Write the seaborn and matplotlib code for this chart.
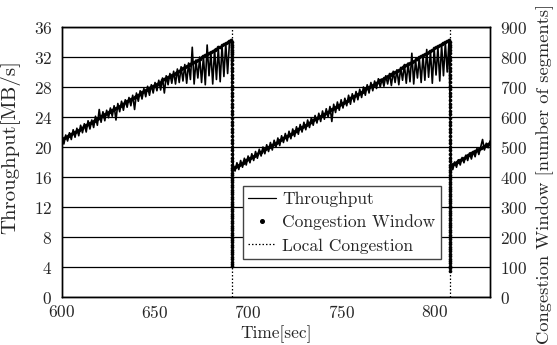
import numpy as np
import pandas as pd
import matplotlib
matplotlib.use("Agg")
import matplotlib.pyplot as plt
from matplotlib.lines import Line2D
import seaborn as sns

# ---------------- data ----------------
# throughput [MB/s], sampled once per second
thr_start_1, thr_1 = 600, [
    21.2, 20.4, 21.6, 20.8, 21.9, 21.0, 22.3, 21.3, 22.5, 21.5,
    22.9, 21.9, 23.1, 22.0, 23.5, 22.4, 23.6, 22.6, 24.1, 22.9,
    25.0, 23.3, 24.7, 23.5, 24.9, 23.9, 25.2, 24.1, 25.5, 23.6,
    25.8, 24.7, 26.1, 24.9, 26.3, 25.3, 26.6, 25.5, 26.9, 25.0,
    27.2, 26.1, 27.5, 26.4, 27.8, 26.7, 28.1, 26.9, 28.3, 27.2,
    28.6, 27.5, 28.9, 27.6, 29.2, 27.2, 29.5, 28.3, 29.8, 28.5,
    30.1, 28.4, 30.4, 28.6, 30.7, 28.8, 31.0, 28.5, 31.2, 29.0,
    33.3, 28.4, 31.6, 29.2, 32.0, 28.6, 32.1, 28.3, 33.6, 29.5,
    32.6, 28.4, 33.0, 29.0, 33.2, 28.7, 33.5, 29.4, 33.8, 29.8,
    34.0, 34.2]
thr_start_2, thr_2 = 692, [
    17.2, 16.8, 17.9, 17.0, 18.2, 17.3, 18.5, 17.6, 18.8, 17.9,
    19.1, 18.2, 19.4, 18.5, 19.7, 18.8, 20.0, 19.1, 20.3, 19.4,
    20.6, 19.6, 20.9, 20.0, 21.2, 20.2, 21.5, 20.6, 21.8, 20.8,
    22.1, 21.1, 22.4, 21.4, 22.7, 21.7, 23.0, 22.0, 23.3, 22.3,
    23.6, 22.6, 23.9, 22.9, 24.2, 23.2, 24.5, 23.4, 24.8, 23.7,
    25.1, 24.0, 25.4, 23.4, 25.7, 24.6, 26.0, 24.9, 26.3, 25.2,
    26.5, 25.5, 26.9, 25.7, 27.1, 26.0, 27.4, 26.3, 27.7, 26.6,
    28.0, 26.9, 28.3, 27.2, 28.6, 27.5, 28.8, 27.8, 29.1,
    28.0, 29.1, 28.1, 29.5, 28.4, 29.8, 28.2, 30.1, 28.6, 30.3,
    28.3, 30.6, 28.9, 31.0, 28.5, 31.2, 28.7, 32.5, 28.4, 31.6,
    29.2, 31.9, 28.6, 32.2, 28.9, 33.0, 29.3, 32.8, 28.5, 33.1,
    29.6, 33.3, 28.8, 33.6, 29.5, 33.9, 30.0, 34.2]
thr_start_3, thr_3 = 809, [
    17.7, 17.0, 18.0, 17.3, 18.3, 17.6, 18.6, 17.9, 18.9, 18.2,
    19.2, 18.4, 19.4, 18.7, 19.8, 19.0, 20.0, 21.0, 19.6, 20.5,
    19.9, 20.8]

# congestion window [segments], sampled once per second
cw_start_1, cw_1 = 600, [
    525, 529, 532, 536, 540, 543, 547, 551, 554, 558,
    562, 565, 569, 572, 576, 580, 583, 587, 591, 594,
    598, 602, 605, 609, 613, 616, 620, 624, 627, 631,
    635, 638, 642, 645, 649, 653, 656, 660, 664, 667,
    671, 675, 678, 682, 686, 689, 693, 697, 700, 704,
    708, 711, 715, 718, 722, 726, 729, 733, 737, 740,
    744, 748, 751, 755, 759, 762, 766, 770, 773, 777,
    781, 784, 788, 791, 795, 799, 802, 806, 810, 813,
    817, 821, 824, 828, 832, 835, 839, 843, 846, 850,
    854, 857]
cw_start_2, cw_2 = 692, [
    430, 434, 437, 441, 445, 448, 452, 456, 459, 463,
    467, 470, 474, 478, 482, 485, 489, 493, 496, 500,
    504, 507, 511, 515, 518, 522, 526, 530, 533, 537,
    541, 544, 548, 552, 555, 559, 563, 566, 570, 574,
    578, 581, 585, 589, 592, 596, 600, 603, 607, 611,
    614, 618, 622, 626, 629, 633, 637, 640, 644, 648,
    651, 655, 659, 662, 666, 670, 674, 677, 681, 685,
    688, 692, 696, 699, 703, 707, 710, 714, 718, 722,
    725, 729, 733, 736, 740, 744, 747, 751, 755, 758,
    762, 766, 770, 773, 777, 781, 784, 788, 792, 795,
    799, 803, 806, 810, 814, 818, 821, 825, 829, 832,
    836, 840, 843, 847, 851, 854, 857]
cw_start_3, cw_3 = 809, [
    440, 444, 447, 451, 454, 458, 461, 465, 469, 472,
    476, 479, 483, 486, 490, 494, 497, 501, 504, 508,
    511, 515]

# local congestion events [sec] and cwnd samples during each collapse
congestion_times = [691.4, 808.3]
drop_1 = [849, 841, 833, 825, 817, 809, 801, 789, 777, 765, 753, 741, 729,
          717, 705, 693, 681, 669, 657, 645, 633, 621, 609, 597, 585, 573,
          561, 549, 537, 525, 513, 501, 489, 477, 465, 453, 441,
          430, 422, 414, 406, 398, 390, 382, 374, 366, 358, 350, 342, 334,
          326, 318, 310, 302, 294, 286, 278, 270, 262, 254, 246, 238, 230,
          222, 214, 206, 198, 190, 182, 174, 166, 158, 150, 142, 134, 126,
          118, 110, 103]
drop_2 = [849, 841, 833, 825, 813, 801, 789, 777, 765, 753, 741, 729, 717,
          705, 693, 681, 669, 657, 645, 633, 621, 609, 597, 585, 573, 561,
          549, 537, 525, 513, 501, 489, 477, 465, 453,
          440, 432, 424, 416, 408, 400, 392, 384, 376, 368, 360, 352, 344,
          336, 328, 320, 312, 304, 296, 288, 280, 272, 264, 256, 248, 240,
          232, 224, 216, 208, 200, 192, 184, 176, 168, 160, 152, 144, 136,
          128, 120, 112, 104, 96, 88]

left_ticks = [0, 4, 8, 12, 16, 20, 24, 28, 32, 36]
right_ticks = [0, 100, 200, 300, 400, 500, 600, 700, 800, 900]
x_ticks = [600, 650, 700, 750, 800]

# ---------------- tables ----------------
def series(start, vals):
    return pd.DataFrame({"t": start + np.arange(len(vals)), "v": vals})

thr_df = pd.concat([series(thr_start_1, thr_1), series(thr_start_2, thr_2),
                    series(thr_start_3, thr_3)], ignore_index=True)
cw_df = pd.concat([series(cw_start_1, cw_1), series(cw_start_2, cw_2),
                   series(cw_start_3, cw_3),
                   pd.DataFrame({"t": congestion_times[0], "v": drop_1}),
                   pd.DataFrame({"t": congestion_times[1], "v": drop_2})],
                  ignore_index=True)

# ---------------- style ----------------
sns.set_style("white")
plt.rcParams["font.family"] = ["cmr10", "DejaVu Serif"]
plt.rcParams["mathtext.fontset"] = "cm"
plt.rcParams["axes.formatter.use_mathtext"] = True
FS = 12.5

fig = plt.figure(figsize=(5.57, 3.45), dpi=100)
ax = fig.add_axes([62 / 557, 1 - 297 / 345, 428 / 557, 270 / 345])
ax2 = ax.twinx()

sns.lineplot(data=thr_df, x="t", y="v", ax=ax, color="black", lw=1.2,
             estimator=None, sort=False, zorder=3)
sns.scatterplot(data=cw_df, x="t", y="v", ax=ax2, color="black", s=7,
                linewidth=0, marker="o", zorder=4)
for tc in congestion_times:
    ax.axvline(tc, color="black", ls=(0, (1.2, 1.6)), lw=0.9, zorder=2)

ax.set_xlim(600, 830)
ax.set_ylim(0, 36)
ax2.set_ylim(0, 900)
ax.set_xticks(x_ticks)
ax.set_yticks(left_ticks)
ax2.set_yticks(right_ticks)
ax.yaxis.grid(True, color="black", lw=0.9)
ax.set_axisbelow(True)

ax.set_xlabel("Time[sec]", fontsize=FS, labelpad=3)
ax.set_ylabel("Throughput[MB/s]", fontsize=15)
ax.yaxis.set_label_coords(-0.098, 0.554)
ax2.set_ylabel("Congestion Window [number of segments]", fontsize=13.3,
               rotation=90, va="center", ha="center")
ax2.yaxis.set_label_coords(1.128, 0.455)
ax.tick_params(axis="x", direction="in", length=4, pad=5, labelsize=FS)
ax.tick_params(axis="y", direction="in", length=0, pad=7, labelsize=FS)
ax2.tick_params(axis="y", direction="in", length=0, pad=7, labelsize=FS)
for a in (ax, ax2):
    for s in a.spines.values():
        s.set_color("black")
        s.set_linewidth(1.0)

handles = [Line2D([], [], color="black", lw=0.9),
           Line2D([], [], color="black", ls="none", marker="o", ms=2.6),
           Line2D([], [], color="black", ls=(0, (1.2, 1.6)), lw=0.9)]
labels = ["Throughput", "Congestion Window", "Local Congestion"]
leg = ax2.legend(handles, labels, loc="center",
                 bbox_to_anchor=(0.654, 0.276), fontsize=FS, frameon=True,
                 fancybox=False, framealpha=1, edgecolor="#444444",
                 handlelength=1.6, handletextpad=0.35, borderpad=0.3,
                 labelspacing=0.45, borderaxespad=0)
leg.get_frame().set_linewidth(1.0)

fig.savefig("out.png", dpi=100)
